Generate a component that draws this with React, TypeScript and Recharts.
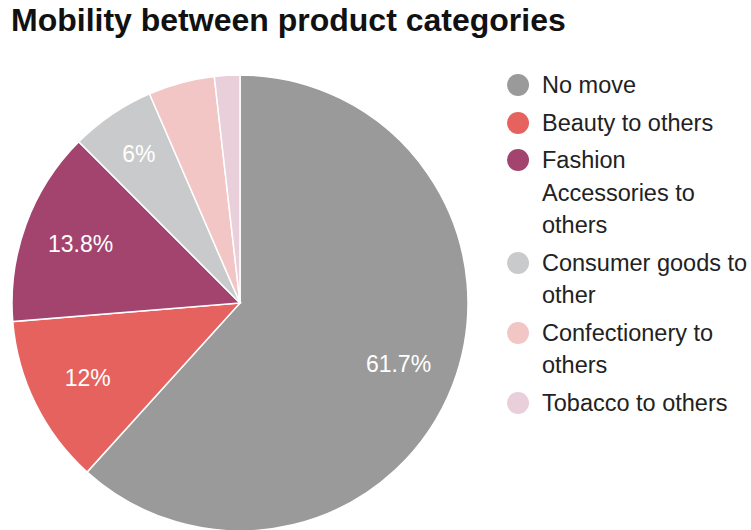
import React from 'react';
import { PieChart, Pie, Cell, Legend } from 'recharts';

const categories = [
  'No move',
  'Beauty to others',
  'Fashion Accessories to others',
  'Consumer goods to other',
  'Confectionery to others',
  'Tobacco to others',
];
const values = [61.7, 12, 13.8, 6, 4.7, 1.8];
const labelTexts = ['61.7%', '12%', '13.8%', '6%', '', ''];
const colors = ['#9a9a9a', '#e5625e', '#a3446f', '#c9cacb', '#f3c6c6', '#e9cfda'];

const data = categories.map((name, i) => ({ name, value: values[i], label: labelTexts[i] }));

const FONT = '"Liberation Sans", Arial, Helvetica, sans-serif';
const RAD = Math.PI / 180;

const renderLabel = (props: any) => {
  const { cx, cy, midAngle, outerRadius, index } = props;
  const txt = labelTexts[index];
  if (!txt) return null;
  const r = outerRadius * (index === 3 ? 0.79 : 0.745);
  const x = cx + r * Math.cos(-midAngle * RAD);
  const y = cy + r * Math.sin(-midAngle * RAD);
  return (
    <text x={x} y={y} fill="#ffffff" fontSize={23} fontFamily={FONT} textAnchor="middle" dominantBaseline="central">
      {txt}
    </text>
  );
};

const LegendContent = () => (
  <div style={{ fontFamily: FONT, fontSize: 23.5, color: '#222', lineHeight: '32.5px' }}>
    {data.map((d, i) => (
      <div key={d.name} style={{ display: 'flex', alignItems: 'flex-start', marginBottom: 5 }}>
        <div
          style={{
            width: 22,
            height: 22,
            borderRadius: '50%',
            background: colors[i],
            marginTop: 5,
            marginRight: 13,
            flex: '0 0 auto',
          }}
        />
        <div style={{ width: 212 }}>{d.name}</div>
      </div>
    ))}
  </div>
);

export default function App() {
  return (
    <div style={{ position: 'absolute', left: 0, top: 0, width: 751, height: 530, background: '#fff', overflow: 'hidden' }}>
      <div
        style={{
          position: 'absolute',
          left: 11,
          top: 2,
          fontFamily: FONT,
          fontWeight: 'bold',
          fontSize: 32,
          color: '#111',
          whiteSpace: 'nowrap',
        }}
      >
        Mobility between product categories
      </div>
      <PieChart width={751} height={530} margin={{ top: 0, right: 0, bottom: 0, left: 0 }}>
        <Pie
          data={data}
          dataKey="value"
          nameKey="name"
          cx={240}
          cy={303}
          outerRadius={228}
          startAngle={90}
          endAngle={-270}
          stroke="#ffffff"
          strokeWidth={1.5}
          label={renderLabel}
          labelLine={false}
          isAnimationActive={false}
        >
          {data.map((d, i) => (
            <Cell key={d.name} fill={colors[i]} />
          ))}
        </Pie>
        <Legend
          layout="vertical"
          align="right"
          verticalAlign="top"
          content={LegendContent}
          wrapperStyle={{ position: 'absolute', left: 507, top: 69, width: 250 }}
        />
      </PieChart>
    </div>
  );
}
